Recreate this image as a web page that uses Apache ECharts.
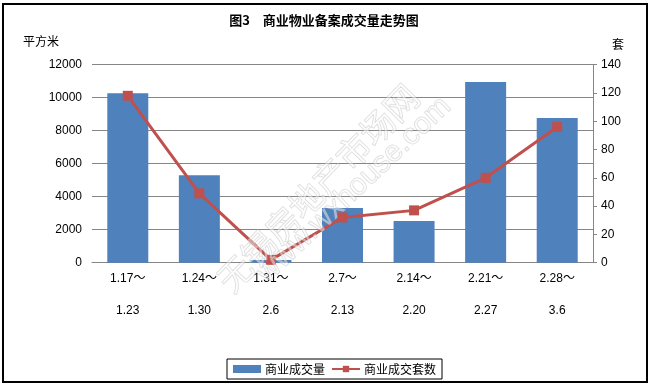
<!DOCTYPE html>
<html>
<head>
<meta charset="utf-8">
<script src="https://cdn.jsdelivr.net/npm/echarts@6/dist/echarts.min.js"></script>
<style>
html,body{margin:0;padding:0;background:#fff;}
#c{width:652px;height:389px;}
</style>
</head>
<body>
<div id="c"></div>
<script>
var catStart = ["1.17～", "1.24～", "1.31～", "2.7～", "2.14～", "2.21～", "2.28～"];
var catEnd = ["1.23", "1.30", "2.6", "2.13", "2.20", "2.27", "3.6"];
var areaValues = [10270, 5300, 160, 3310, 2530, 10950, 8770];
var unitValues = [118, 49, 2, 32, 37, 60, 96];
var leftTicks = [0, 12000, 2000];
var rightTicks = [0, 140, 20];

var categories = catStart.map(function (s, i) { return s + "\n" + catEnd[i]; });
var FONT = "'Liberation Sans', 'Noto Sans CJK SC', sans-serif";
var CJK = "'Noto Sans CJK SC', sans-serif";

var chart = echarts.init(document.getElementById('c'), null, {renderer: 'canvas'});
chart.setOption({
  animation: false,
  backgroundColor: '#fff',
  textStyle: {fontFamily: FONT},
  grid: {left: 92, right: 59, top: 64.7, bottom: 126.3},
  graphic: [
    {type: 'rect', shape: {x: 3, y: 4, width: 644, height: 378}, style: {fill: 'none', stroke: '#000', lineWidth: 2}, z: 0},
    {type: 'text', x: 324, y: 20, style: {text: '图3　商业物业备案成交量走势图', font: 'bold 13px ' + CJK, fill: '#000', align: 'center', verticalAlign: 'middle'}},
    {type: 'text', x: 41, y: 41, style: {text: '平方米', font: '12px ' + CJK, fill: '#000', align: 'center', verticalAlign: 'middle'}},
    {type: 'text', x: 618, y: 44, style: {text: '套', font: '12px ' + CJK, fill: '#000', align: 'center', verticalAlign: 'middle'}},
    {type: 'text', x: 318, y: 188, rotation: 0.8, z: 100, style: {text: '无锡房地产市场网', font: '34px ' + CJK, fill: 'rgba(255,255,255,0.45)', stroke: 'rgba(160,160,160,0.4)', lineWidth: 1, align: 'center', verticalAlign: 'middle'}},
    {type: 'text', x: 354, y: 190, rotation: 0.76, z: 100, style: {text: 'www.wxhouse.com', font: '30px ' + FONT, fill: 'rgba(255,255,255,0.45)', stroke: 'rgba(160,160,160,0.4)', lineWidth: 1, align: 'center', verticalAlign: 'middle'}}
  ],
  legend: {
    left: 227, top: 359,
    padding: [4, 6, 4, 6],
    borderColor: '#000', borderWidth: 1,
    itemGap: 6, itemWidth: 28, itemHeight: 8,
    textStyle: {fontSize: 12, fontFamily: CJK, color: '#000', padding: [0, 0, 0, -1]},
    data: [
      {name: '商业成交量', icon: 'rect'},
      {name: '商业成交套数'}
    ]
  },
  xAxis: {
    type: 'category',
    data: categories,
    axisLine: {show: true, lineStyle: {color: '#868686', width: 1}},
    axisTick: {show: false},
    axisLabel: {color: '#000', fontSize: 12, lineHeight: 32, margin: 0, interval: 0}
  },
  yAxis: [
    {
      type: 'value', min: leftTicks[0], max: leftTicks[1], interval: leftTicks[2],
      axisLine: {show: false}, axisTick: {show: false},
      axisLabel: {color: '#000', fontSize: 12, margin: 10, formatter: function (v) { return String(v); }},
      splitLine: {show: true, lineStyle: {color: '#868686', width: 1}}
    },
    {
      type: 'value', min: rightTicks[0], max: rightTicks[1], interval: rightTicks[2],
      position: 'right',
      axisLine: {show: true, lineStyle: {color: '#868686', width: 1}},
      axisTick: {show: true, length: 4, inside: false, lineStyle: {color: '#868686'}},
      axisLabel: {color: '#000', fontSize: 12, margin: 8, formatter: function (v) { return String(v); }},
      splitLine: {show: false}
    }
  ],
  series: [
    {
      name: '商业成交量', type: 'bar', yAxisIndex: 0,
      data: areaValues, barWidth: 41,
      itemStyle: {color: '#4F81BD'}
    },
    {
      name: '商业成交套数', type: 'line', yAxisIndex: 1,
      data: unitValues,
      symbol: 'rect', symbolSize: 10,
      lineStyle: {color: '#C0504D', width: 3},
      itemStyle: {color: '#C0504D'}
    }
  ]
});
</script>
</body>
</html>
